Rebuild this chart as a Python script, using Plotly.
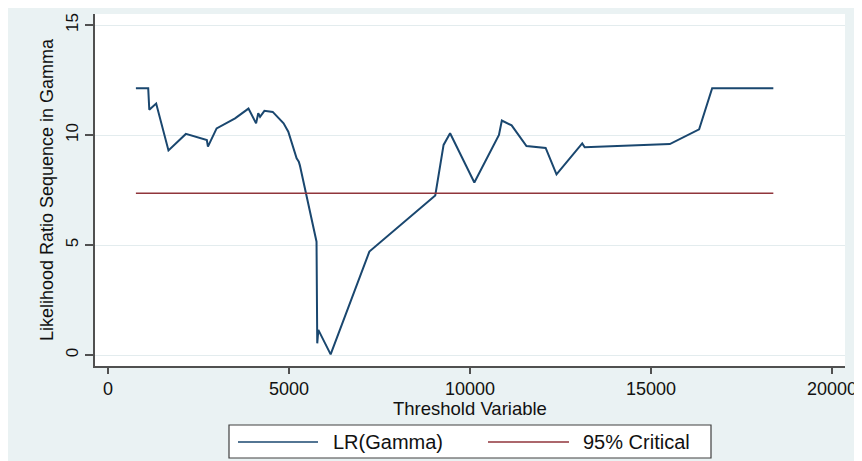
import plotly.graph_objects as go

# ---- data ----
threshold = [770, 1110, 1140, 1330, 1670, 2150, 2730, 2760, 3000, 3510, 3880, 4090,
             4150, 4200, 4320, 4550, 4850, 4980, 5210, 5270, 5300, 5760, 5780, 5810,
             6150, 7220, 9040, 9270, 9450, 10120, 10800, 10880, 11150, 11560, 12090,
             12390, 13100, 13170, 15520, 16330, 16690, 18380]
lr_gamma = [12.13, 12.13, 11.15, 11.43, 9.30, 10.05, 9.77, 9.47, 10.30, 10.76, 11.20, 10.53,
            10.99, 10.83, 11.10, 11.05, 10.53, 10.15, 8.94, 8.79, 8.62, 5.15, 0.53, 1.14,
            0.03, 4.70, 7.25, 9.55, 10.08, 7.84, 10.00, 10.66, 10.44, 9.50, 9.41,
            8.21, 9.62, 9.44, 9.59, 10.26, 12.13, 12.13]
crit_x = [770, 18380]
crit_y = [7.35, 7.35]

x_ticks = [0, 5000, 10000, 15000, 20000]
x_tick_labels = ["0", "5000", "10000", "15000", "20000"]
y_ticks = [0, 5, 10, 15]
y_tick_labels = ["0", "5", "10", "15"]

series_names = ["LR(Gamma)", "95% Critical"]
x_title = "Threshold Variable"
y_title = "Likelihood Ratio Sequence in Gamma"

# ---- styling ----
NAVY = "#1a476f"
MAROON = "#90353b"
BG = "#eaf2f3"
FONT = "Liberation Sans, Arial, sans-serif"

OFF = 8  # page body margin
W, H = 854, 453
L, R, T, B = 87, 17, 6, 95
PW, PH = W - L - R, H - T - B


def px(xp):  # page pixel -> paper x
    return (xp - OFF - L) / PW


def py(yp):  # page pixel -> paper y
    return (H - B - (yp - OFF)) / PH


fig = go.Figure()
fig.add_trace(go.Scatter(x=threshold, y=lr_gamma, mode="lines", name=series_names[0],
                         line=dict(color=NAVY, width=2), showlegend=False))
fig.add_trace(go.Scatter(x=crit_x, y=crit_y, mode="lines", name=series_names[1],
                         line=dict(color=MAROON, width=1.5), showlegend=False))

shapes = [
    # legend box
    dict(type="rect", xref="paper", yref="paper", x0=px(229), x1=px(711), y0=py(458), y1=py(425),
         fillcolor="white", line=dict(color="#404040", width=1.2)),
    dict(type="line", xref="paper", yref="paper", x0=px(238), x1=px(318), y0=py(442), y1=py(442),
         line=dict(color=NAVY, width=1.5)),
    dict(type="line", xref="paper", yref="paper", x0=px(488), x1=px(569), y0=py(442), y1=py(442),
         line=dict(color=MAROON, width=1.5)),
]

annotations = [
    dict(text=series_names[0], xref="paper", yref="paper", x=px(331), y=py(442),
         xanchor="left", yanchor="middle", showarrow=False,
         font=dict(family=FONT, size=20, color="#111")),
    dict(text=series_names[1], xref="paper", yref="paper", x=px(581), y=py(442),
         xanchor="left", yanchor="middle", showarrow=False,
         font=dict(family=FONT, size=20, color="#111")),
    dict(text=x_title, xref="paper", yref="paper", x=0.5, y=py(408),
         xanchor="center", yanchor="middle", showarrow=False,
         font=dict(family=FONT, size=18.5, color="#111")),
]

fig.update_layout(
    width=W, height=H,
    margin=dict(l=L, r=R, t=T, b=B, autoexpand=False),
    paper_bgcolor=BG, plot_bgcolor="white",
    font=dict(family=FONT, color="#111"),
    shapes=shapes, annotations=annotations,
    showlegend=False,
    xaxis=dict(range=[-360, 20360], tickvals=x_ticks, ticktext=x_tick_labels,
               showgrid=False, zeroline=False, showline=True, linecolor="#505050",
               linewidth=1.5, ticks="outside", ticklen=6, tickcolor="#505050", tickwidth=1.5,
               tickfont=dict(size=18, family=FONT, color="#111"), automargin=False),
    yaxis=dict(range=[-0.5, 15.5], tickvals=y_ticks, ticktext=y_tick_labels,
               showgrid=True, gridcolor="#e3ecee", gridwidth=1, zeroline=False,
               showline=True, linecolor="#505050", linewidth=1.5, ticks="outside",
               ticklen=8, tickcolor="#505050", tickwidth=1.5, tickangle=-90,
               tickfont=dict(size=17, family=FONT, color="#111"), automargin=False,
               title=dict(text=y_title, font=dict(size=18, family=FONT, color="#111"), standoff=5)),
)

fig.write_html("out.html")
